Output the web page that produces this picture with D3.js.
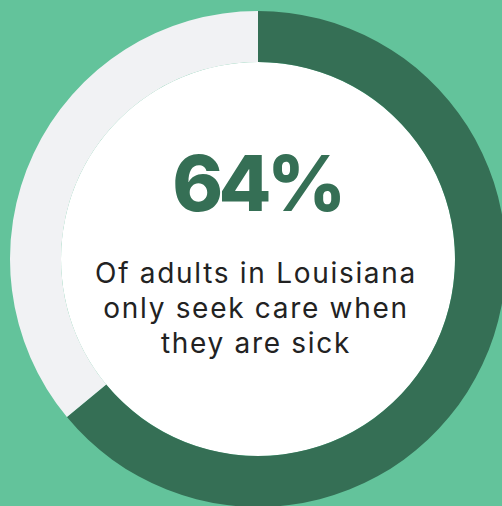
<!DOCTYPE html>
<html>
<head>
<meta charset="utf-8">
<script src="https://cdn.jsdelivr.net/npm/d3@7"></script>
<style>
  html, body { margin: 0; padding: 0; background: #63c39b; overflow: hidden; }
  svg { display: block; }
</style>
</head>
<body>
<svg id="chart" width="502" height="506"></svg>
<script>
// Share of adults (percent)
const categories = ["Only seek care when sick", "Other"];
const values = [64, 36];
const headline = "64%";
const captionLines = ["Of adults in Louisiana", "only seek care when", "they are sick"];

const colors = ["#356f55", "#f1f2f4"];

const svg = d3.select("#chart");

const cx = 258, cy = 259;
const outerR = 248, innerR = 197;

const g = svg.append("g").attr("transform", `translate(${cx},${cy})`);

const pie = d3.pie().sort(null).value(d => d);
const arc = d3.arc().innerRadius(innerR).outerRadius(outerR);

// white center disc
g.append("circle").attr("r", innerR).attr("fill", "#ffffff");

g.selectAll("path.slice")
    .data(pie(values))
    .enter().append("path")
    .attr("class", "slice")
    .attr("d", arc)
    .attr("fill", (d, i) => colors[i]);

// headline number
g.append("text")
    .attr("x", -1)
    .attr("y", 211 - cy)
    .attr("text-anchor", "middle")
    .attr("font-family", "Inter, sans-serif")
    .attr("font-weight", 800)
    .attr("font-size", 77)
    .attr("letter-spacing", -4.5)
    .attr("fill", "#356f55")
    .text(headline);

// caption
g.selectAll("text.caption")
    .data(captionLines)
    .enter().append("text")
    .attr("class", "caption")
    .attr("x", -2)
    .attr("y", (d, i) => 283 - cy + i * 35)
    .attr("text-anchor", "middle")
    .attr("font-family", "Inter, sans-serif")
    .attr("font-weight", 400)
    .attr("font-size", 28)
    .attr("letter-spacing", 1.7)
    .attr("fill", "#222222")
    .text(d => d);
</script>
</body>
</html>
